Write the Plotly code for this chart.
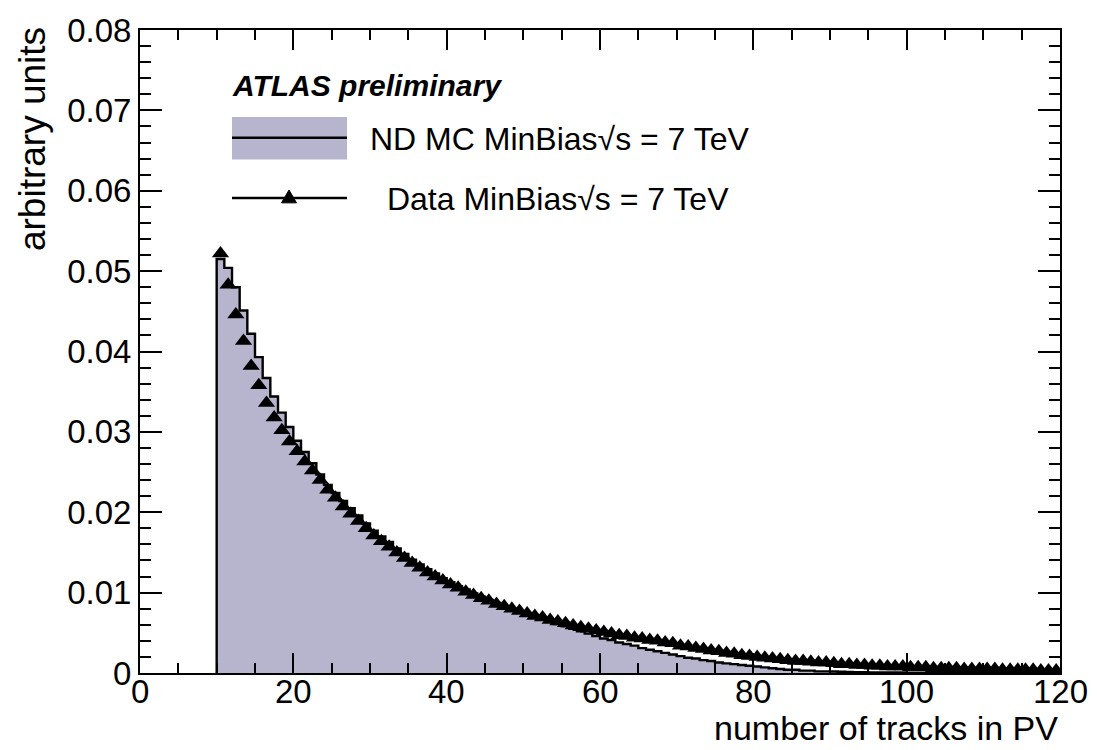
import plotly.graph_objects as go

# ---------------- data ----------------
bin_low = list(range(10, 120))  # lower edges of unit-width bins

mc_values = [
    0.0515, 0.0504, 0.0480, 0.0451, 0.0422, 0.0393, 0.0367, 0.0344, 0.0324, 0.0306,  # 10-19
    0.0289, 0.0275, 0.0261, 0.0247, 0.0234, 0.0224, 0.0214, 0.0205, 0.0196, 0.0186,  # 20-29
    0.0177, 0.0170, 0.0163, 0.0155, 0.0148, 0.0141, 0.0135, 0.0129, 0.0124, 0.0118,  # 30-39
    0.0113, 0.0108, 0.0104, 0.0099, 0.0095, 0.0091, 0.0087, 0.0083, 0.0080, 0.0077,  # 40-49
    0.0074, 0.0070, 0.0067, 0.0064, 0.0061, 0.0058, 0.0055, 0.0052, 0.0049, 0.0046,  # 50-59
    0.0043, 0.0041, 0.0038, 0.0036, 0.0034, 0.0031, 0.0029, 0.0027, 0.0025, 0.0023,  # 60-69
    0.0021, 0.0019, 0.0018, 0.0016, 0.0015, 0.0013, 0.0012, 0.0011, 0.0010, 0.0009,  # 70-79
    0.0008, 0.0007, 0.0006, 0.0005, 0.0004, 0.0004, 0.0003, 0.0003, 0.0002, 0.0002,  # 80-89
    0.00018, 0.00015, 0.00012, 0.00010, 0.00010, 0.00008, 0.00007, 0.00007, 0.00006, 0.00006,  # 90-99
    0.00005, 0.00005, 0.00004, 0.00004, 0.00004, 0.00003, 0.00003, 0.00003, 0.00003, 0.00002,  # 100-109
    0.00002, 0.00002, 0.00002, 0.00002, 0.00002, 0.00001, 0.00001, 0.00001, 0.00001, 0.00001,  # 110-119
]

data_values = [
    0.0522, 0.0483, 0.0446, 0.0413, 0.0382, 0.0358, 0.0336, 0.0318, 0.0302, 0.0288,  # 10-19
    0.0276, 0.0263, 0.0252, 0.0240, 0.0228, 0.0218, 0.0207, 0.0198, 0.0189, 0.0180,  # 20-29
    0.0171, 0.0164, 0.0157, 0.0150, 0.0143, 0.0137, 0.0131, 0.0125, 0.0120, 0.0115,  # 30-39
    0.0110, 0.0106, 0.0101, 0.0097, 0.0093, 0.0090, 0.0086, 0.0083, 0.0080, 0.0077,  # 40-49
    0.0074, 0.0071, 0.0069, 0.0066, 0.0064, 0.0062, 0.0059, 0.0057, 0.0055, 0.0053,  # 50-59
    0.0051, 0.0049, 0.0047, 0.0046, 0.0044, 0.0043, 0.0041, 0.0040, 0.0038, 0.0037,  # 60-69
    0.0034, 0.0033, 0.0031, 0.0030, 0.0028, 0.0027, 0.0025, 0.0024, 0.0022, 0.0021,  # 70-79
    0.0020, 0.0019, 0.0018, 0.0017, 0.0016, 0.0015, 0.0015, 0.0014, 0.0013, 0.0013,  # 80-89
    0.0012, 0.0011, 0.0011, 0.0010, 0.0010, 0.0009, 0.0009, 0.0008, 0.0008, 0.0008,  # 90-99
    0.0007, 0.0007, 0.0007, 0.0006, 0.0006, 0.0006, 0.0006, 0.0005, 0.0005, 0.0005,  # 100-109
    0.0005, 0.0005, 0.0004, 0.0004, 0.0004, 0.0004, 0.0004, 0.0003, 0.0003, 0.0003,  # 110-119
]

x_tick_vals = [0, 20, 40, 60, 80, 100, 120]
x_tick_text = ["0", "20", "40", "60", "80", "100", "120"]
y_tick_vals = [0, 0.01, 0.02, 0.03, 0.04, 0.05, 0.06, 0.07, 0.08]
y_tick_text = ["0", "0.01", "0.02", "0.03", "0.04", "0.05", "0.06", "0.07", "0.08"]

mc_label = "ND MC MinBias\u221as = 7 TeV"
data_label = " Data MinBias\u221as = 7 TeV"

# ---------------- style ----------------
FILL = "#b7b4cd"
FONT = "Liberation Sans"
W, H = 1097, 750
ML, MR, MT, MB = 140, 37, 22, 77
PW, PH = W - ML - MR, H - MT - MB


def px_x(p):
    return (p - ML) / PW


def px_y(p):
    return (H - MB - p) / PH


# step outline of the MC histogram (bin edges)
mc_x = [bin_low[0]] + bin_low + [bin_low[-1] + 1]
mc_y = [0] + mc_values + [mc_values[-1]]
data_x = [b + 0.5 for b in bin_low]

fig = go.Figure()
fig.add_trace(go.Scatter(
    x=mc_x, y=mc_y, mode="lines", line_shape="hv",
    line=dict(color="black", width=2.4),
    fill="tozeroy", fillcolor=FILL, showlegend=False, hoverinfo="skip"))
fig.add_trace(go.Scatter(
    x=data_x, y=data_values, mode="markers",
    marker=dict(symbol="triangle-up", size=15, color="black"),
    showlegend=False))

axis_common = dict(
    showline=True, linecolor="black", linewidth=2, mirror="allticks",
    ticks="inside", tickcolor="black", tickwidth=1.5,
    showgrid=False, zeroline=False,
)

# x tick labels are placed as annotations (closer to the axis, ROOT style)
fig.update_xaxes(
    range=[0, 120], tickmode="array", tickvals=x_tick_vals, showticklabels=False,
    ticklen=20,
    minor=dict(dtick=5, tick0=0, ticks="inside", ticklen=10, tickwidth=1.5,
               tickcolor="black", showgrid=False),
    **axis_common)
fig.update_yaxes(
    range=[0, 0.08], tickmode="array", tickvals=y_tick_vals, ticktext=y_tick_text,
    ticklen=22, tickfont=dict(family=FONT, size=33, color="black"),
    minor=dict(dtick=0.002, tick0=0, ticks="inside", ticklen=11, tickwidth=1.5,
               tickcolor="black", showgrid=False),
    **axis_common)

# legend (drawn by hand, ROOT style)
lx0, lx1 = px_x(232), px_x(347)
shapes = [
    dict(type="rect", xref="paper", yref="paper", x0=lx0, x1=lx1,
         y0=px_y(153), y1=px_y(110), fillcolor=FILL, line=dict(width=0)),
    dict(type="line", xref="paper", yref="paper", x0=lx0, x1=lx1,
         y0=px_y(131), y1=px_y(131), line=dict(color="black", width=2.5)),
    dict(type="line", xref="paper", yref="paper", x0=lx0, x1=lx1,
         y0=px_y(192), y1=px_y(192), line=dict(color="black", width=2.5)),
]
tcx, tcy = 289, 191
shapes.append(dict(
    type="path", xref="paper", yref="paper",
    path=(f"M {px_x(tcx-7.5)} {px_y(tcy+6)} L {px_x(tcx+7.5)} {px_y(tcy+6)} "
          f"L {px_x(tcx)} {px_y(tcy-7)} Z"),
    fillcolor="black", line=dict(color="black", width=1)))

annotations = [
    dict(text="<b><i>ATLAS preliminary</i></b>", xref="paper", yref="paper",
         x=px_x(230), y=px_y(78), xanchor="left", yanchor="middle", showarrow=False,
         font=dict(family=FONT, size=30, color="black")),
    dict(text=mc_label, xref="paper", yref="paper",
         x=px_x(368), y=px_y(132), xanchor="left", yanchor="middle", showarrow=False,
         font=dict(family=FONT, size=32, color="black")),
    dict(text=data_label, xref="paper", yref="paper",
         x=px_x(376), y=px_y(193), xanchor="left", yanchor="middle", showarrow=False,
         font=dict(family=FONT, size=32, color="black")),
    dict(text="number of tracks in PV", xref="paper", yref="paper",
         x=1.0, y=px_y(750), xanchor="right", yanchor="bottom", showarrow=False,
         font=dict(family=FONT, size=34, color="black")),
    dict(text="arbitrary units", xref="paper", yref="paper", textangle=-90,
         x=px_x(32), y=px_y(17), xanchor="center", yanchor="top", showarrow=False,
         font=dict(family=FONT, size=37, color="black")),
]
for v, t in zip(x_tick_vals, x_tick_text):
    annotations.append(dict(
        text=t, xref="x", yref="paper", x=v, y=px_y(692), xanchor="center",
        yanchor="middle", showarrow=False,
        font=dict(family=FONT, size=33, color="black")))

fig.update_layout(
    width=W, height=H, margin=dict(l=ML, r=MR, t=MT, b=MB),
    plot_bgcolor="white", paper_bgcolor="white",
    shapes=shapes, annotations=annotations, showlegend=False,
    font=dict(family=FONT, color="black"),
)

fig.write_html("out.html")
